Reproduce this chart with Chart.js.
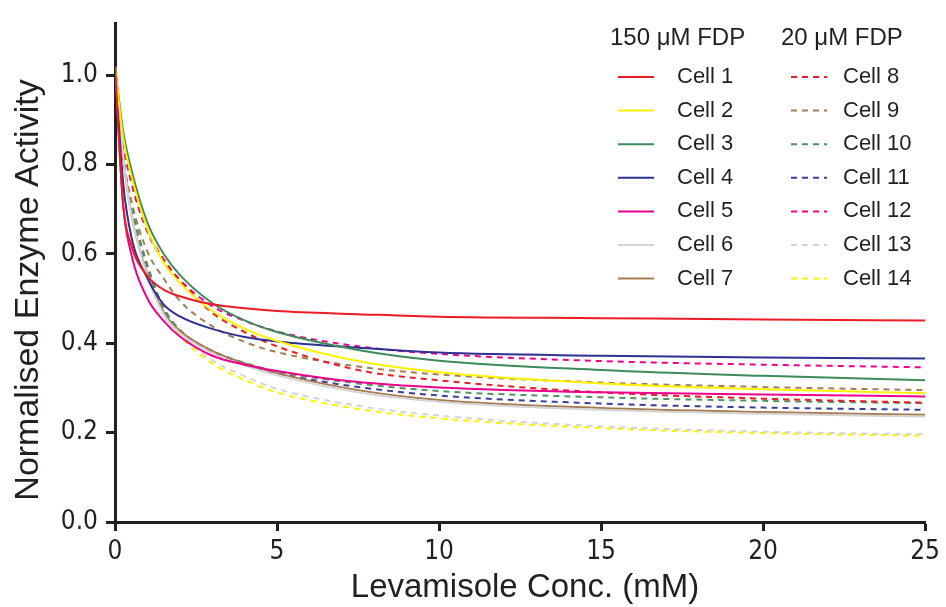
<!DOCTYPE html>
<html lang="en">
<head>
    <meta charset="UTF-8">
    <title>Levamisole inhibition curves</title>
    <script src="https://cdn.jsdelivr.net/npm/chart.js"></script>
    <style>
        body {
            margin: 0;
            background-color: #ffffff;
        }
        .chart-box {
            width: 946px;
            height: 607px;
        }
    </style>
</head>
<body>
    <div class="chart-box">
        <canvas id="enzymeChart"></canvas>
    </div>
    <script>
        // Levamisole concentration (mM)
        const concentrations = [0, 0.25, 0.5, 1, 1.5, 2, 3, 4, 5, 7.5, 10, 15, 20, 25];

        // 150 uM FDP
        const cell1 = [1.02, 0.71, 0.62, 0.55, 0.52, 0.505, 0.487, 0.478, 0.472, 0.465, 0.459, 0.456, 0.453, 0.451];
        const cell2 = [1.02, 0.86, 0.775, 0.655, 0.58, 0.535, 0.472, 0.432, 0.405, 0.36, 0.335, 0.31, 0.297, 0.288];
        const cell3 = [1.02, 0.875, 0.79, 0.67, 0.60, 0.553, 0.49, 0.451, 0.425, 0.385, 0.361, 0.34, 0.327, 0.317];
        const cell4 = [1.02, 0.76, 0.64, 0.545, 0.487, 0.46, 0.432, 0.414, 0.404, 0.39, 0.379, 0.372, 0.368, 0.366];
        const cell5 = [1.02, 0.71, 0.60, 0.50, 0.45, 0.415, 0.372, 0.352, 0.338, 0.313, 0.301, 0.29, 0.285, 0.281];
        const cell6 = [1.02, 0.82, 0.69, 0.55, 0.465, 0.423, 0.378, 0.35, 0.328, 0.29, 0.269, 0.251, 0.242, 0.236];
        const cell7 = [1.02, 0.82, 0.69, 0.555, 0.47, 0.428, 0.383, 0.355, 0.333, 0.295, 0.273, 0.255, 0.246, 0.240];

        // 20 uM FDP
        const cell8 = [1.02, 0.85, 0.765, 0.65, 0.585, 0.54, 0.468, 0.425, 0.393, 0.34, 0.317, 0.29, 0.276, 0.267];
        const cell9 = [1.02, 0.82, 0.72, 0.605, 0.545, 0.495, 0.438, 0.403, 0.38, 0.348, 0.33, 0.312, 0.302, 0.295];
        const cell10 = [1.02, 0.82, 0.71, 0.575, 0.48, 0.43, 0.383, 0.356, 0.337, 0.31, 0.293, 0.279, 0.271, 0.266];
        const cell11 = [1.02, 0.82, 0.71, 0.572, 0.478, 0.428, 0.38, 0.352, 0.333, 0.302, 0.283, 0.265, 0.256, 0.251];
        const cell12 = [1.02, 0.85, 0.76, 0.65, 0.588, 0.542, 0.483, 0.45, 0.426, 0.393, 0.376, 0.36, 0.352, 0.346];
        const cell13 = [1.02, 0.82, 0.70, 0.565, 0.48, 0.425, 0.362, 0.326, 0.298, 0.26, 0.238, 0.214, 0.202, 0.196];
        const cell14 = [1.02, 0.82, 0.70, 0.56, 0.475, 0.418, 0.355, 0.318, 0.29, 0.253, 0.232, 0.21, 0.199, 0.193];

        const cellLabels = ['Cell 1', 'Cell 2', 'Cell 3', 'Cell 4', 'Cell 5', 'Cell 6', 'Cell 7',
                            'Cell 8', 'Cell 9', 'Cell 10', 'Cell 11', 'Cell 12', 'Cell 13', 'Cell 14'];
        const groupHeaders = ['150 \u03bcM FDP', '20 \u03bcM FDP'];
        const yTicks = [0, 0.2, 0.4, 0.6, 0.8, 1.0];
        const xTicks = [0, 5, 10, 15, 20, 25];

        const allCells = [cell1, cell2, cell3, cell4, cell5, cell6, cell7,
                          cell8, cell9, cell10, cell11, cell12, cell13, cell14];
        const colours = ['#ed1c24', '#fff200', '#3f8a5a', '#2e3192', '#ec008c', '#d4d4d4', '#a67c52',
                         '#ed1c24', '#a67c52', '#4f9466', '#3b3f9a', '#ec008c', '#d4d4d4', '#fff200'];

        const ink = '#231f20';
        const tickFont = { family: "'Liberation Sans Narrow', 'DejaVu Sans Condensed', sans-serif", size: 26 };

        const datasets = allCells.map((values, i) => ({
            label: cellLabels[i],
            data: values.map((v, j) => ({ x: concentrations[j], y: v })),
            borderColor: colours[i],
            backgroundColor: colours[i],
            borderWidth: 2,
            borderDash: i >= 7 ? [6, 5] : [],
            pointRadius: 0,
            cubicInterpolationMode: 'monotone',
            fill: false
        }));

        // Titles and the two-column legend are drawn by hand
        const decorations = {
            id: 'decorations',
            afterDraw(chart) {
                const ctx = chart.ctx;
                ctx.save();
                ctx.fillStyle = ink;

                // y title
                ctx.font = "34px 'Liberation Sans', sans-serif";
                ctx.textAlign = 'center';
                ctx.textBaseline = 'middle';
                ctx.translate(29, 290);
                ctx.rotate(-Math.PI / 2);
                ctx.fillText('Normalised Enzyme Activity', 0, 0);
                ctx.setTransform(1, 0, 0, 1, 0, 0);

                // x title
                ctx.font = "33px 'Liberation Sans', sans-serif";
                ctx.fillText('Levamisole Conc. (mM)', 525, 588);

                // legend headers
                ctx.font = "24px 'Liberation Sans', sans-serif";
                ctx.textAlign = 'left';
                ctx.fillText(groupHeaders[0], 610, 38);
                ctx.fillText(groupHeaders[1], 781, 38);

                // legend rows
                ctx.font = "22px 'Liberation Sans', sans-serif";
                chart.data.datasets.forEach((ds, i) => {
                    const col = i < 7 ? 0 : 1;
                    const row = i % 7;
                    const y = 77 + row * 33.6;
                    const x0 = col === 0 ? 618 : 791;
                    ctx.strokeStyle = ds.borderColor;
                    ctx.lineWidth = 2;
                    ctx.setLineDash(ds.borderDash);
                    ctx.beginPath();
                    ctx.moveTo(x0, y);
                    ctx.lineTo(x0 + 36, y);
                    ctx.stroke();
                    ctx.setLineDash([]);
                    ctx.fillText(ds.label, col === 0 ? 677 : 843, y);
                });
                ctx.restore();
            }
        };

        new Chart(document.getElementById('enzymeChart'), {
            type: 'line',
            data: { datasets: datasets },
            options: {
                responsive: true,
                maintainAspectRatio: false,
                animation: false,
                layout: { padding: { top: 13, right: 19, left: 0, bottom: 0 } },
                plugins: {
                    legend: { display: false },
                    tooltip: { enabled: false }
                },
                scales: {
                    x: {
                        type: 'linear',
                        min: 0,
                        max: 25,
                        afterBuildTicks: (scale) => { scale.ticks = xTicks.map(v => ({ value: v })); },
                        afterFit: (scale) => { scale.height = 85; },
                        ticks: { color: ink, font: tickFont, padding: 6, maxRotation: 0 },
                        border: { display: true, color: ink, width: 3 },
                        grid: { drawOnChartArea: false, drawTicks: true, tickLength: 9, tickWidth: 3, tickColor: ink }
                    },
                    y: {
                        type: 'linear',
                        min: 0,
                        max: 1.115,
                        afterBuildTicks: (scale) => { scale.ticks = yTicks.map(v => ({ value: v })); },
                        afterFit: (scale) => { scale.width = 115; },
                        ticks: { color: ink, font: tickFont, padding: 8, callback: (v) => v.toFixed(1) },
                        border: { display: true, color: ink, width: 3 },
                        grid: { drawOnChartArea: false, drawTicks: true, tickLength: 9, tickWidth: 3, tickColor: ink }
                    }
                }
            },
            plugins: [decorations]
        });
    </script>
</body>
</html>
